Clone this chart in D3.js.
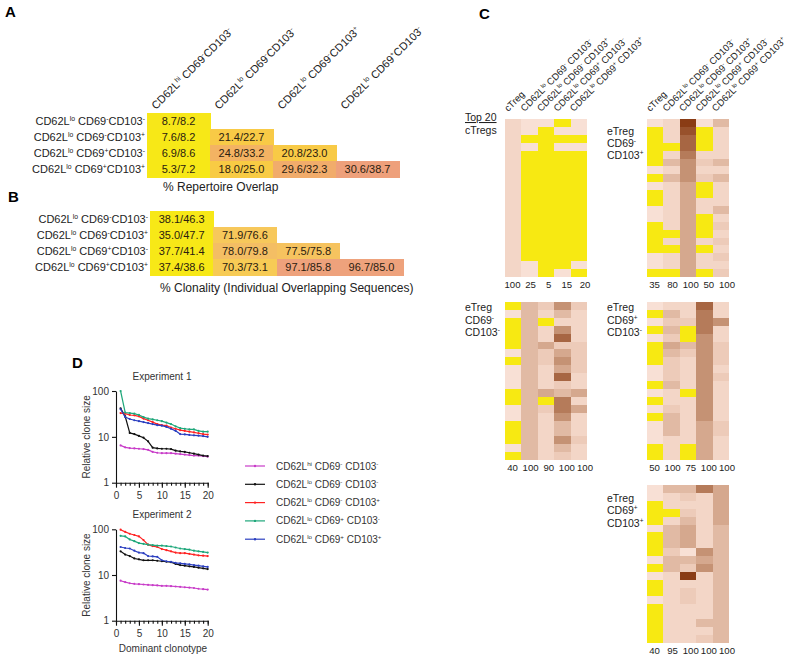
<!DOCTYPE html>
<html><head><meta charset="utf-8">
<script src="https://cdn.jsdelivr.net/npm/d3@7"></script>
<style>
body{margin:0;background:#fff}
svg{display:block;font-family:"Liberation Sans",Arial,sans-serif}
text{white-space:pre}
</style>
</head><body>
<svg id="fig" width="800" height="658"></svg>
<script>
// ---------- DATA ----------
// Panels A/B (lower-triangular tables, Experiment 1 / Experiment 2)
const tableRows = ["CD62L{lo} CD69{-}CD103{-}", "CD62L{lo} CD69{-}CD103{+}", "CD62L{lo} CD69{+}CD103{-}", "CD62L{lo} CD69{+}CD103{+}"];
const tableColsA = ["CD62L{hi} CD69{-}CD103{-}", "CD62L{lo} CD69{-}CD103{-}", "CD62L{lo} CD69{-}CD103{+}", "CD62L{lo} CD69{+}CD103{-}"];
const overlapExp1 = [[8.7],[7.6,21.4],[6.9,24.8,20.8],[5.3,18.0,29.6,30.6]];
const overlapExp2 = [[8.2],[8.2,22.7],[8.6,33.2,23.0],[7.2,25.0,32.3,38.7]];
const clonalityExp1 = [[38.1],[35.0,71.9],[37.7,78.0,77.5],[37.4,70.3,97.1,96.7]];
const clonalityExp2 = [[46.3],[47.7,76.6],[41.4,79.8,75.8],[38.6,73.1,85.8,85.0]];

// Panel C heatmaps: 20 rows x 5 columns; 'Y' = not found (yellow), digits 0-9 = relative frequency level
const heatCols = ["cTreg", "CD62L{lo} CD69{-} CD103{-}", "CD62L{lo} CD69{-} CD103{+}", "CD62L{lo} CD69{+} CD103{-}", "CD62L{lo} CD69{+} CD103{+}"];
const heatTop20cTreg = ["100Y0","10Y00","1YYYY","10Y00","1YYYY","1YYYY","1YYYY","1YYYY","1YYYY","1YYYY","1YYYY","1YYYY","1YYYY","1YYYY","1YYYY","1YYYY","1YYYY","1YYYY","10YY0","10Y0Y"];
const heatCD69negCD103pos = ["01903","Y18Y1","Y17Y1","YY7Y1","Y1611","Y3523","01511","Y3523","014Y1","Y14Y1","Y1411","01413","014Y1","Y14Y2","YY4Y1","Y1412","YY4Y1","01412","01411","YY4Y2"];
const heatCD69negCD103neg = ["Y3252","03131","Y3Y11","Y3151","Y3171","Y3422","03242","Y3252","03142","03171","03121","Y3434","Y3Y61","03264","03151","Y3131","Y3131","Y3152","03131","Y3121"];
const heatCD69posCD103neg = ["01171","Y3161","02265","Y3Y61","02Y51","Y4352","Y3252","Y2152","02151","02152","Y3151","01Y51","Y1151","02151","Y3151","03142","03142","01141","Y1Y41","Y1Y41"];
const heatCD69posCD103pos = ["03364","01214","Y1114","YY214","Y1314","03413","Y3413","Y3413","Y2053","03343","Y3253","01913","Y1113","Y1213","01213","Y1113","Y1113","Y1133","Y1113","Y1123"];
const pctTop20cTreg = ["100","25","5","15","20"];
const pctCD69negCD103pos = ["35","80","100","50","100"];
const pctCD69negCD103neg = ["40","100","90","100","100"];
const pctCD69posCD103neg = ["50","100","75","100","100"];
const pctCD69posCD103pos = ["40","95","100","100","100"];

// Panel D: relative clone size of 20 dominant clonotypes
const clonotypes = d3.range(1, 21);
const seriesNames = ["CD62L{hi} CD69{-} CD103{-}", "CD62L{lo} CD69{-} CD103{-}", "CD62L{lo} CD69{-} CD103{+}", "CD62L{lo} CD69{+} CD103{-}", "CD62L{lo} CD69{+} CD103{+}"];
const seriesColors = ["#c83cc8", "#111111", "#ff2222", "#1ea77a", "#2b3fc0"];
const exp1HiNN = [6.5,5.9,5.7,5.6,5.5,5.4,5.2,4.7,4.5,4.4,4.4,4.4,4.3,4.2,4.1,4.0,3.9,3.9,3.8,3.7];
const exp1LoNN = [42,28,12.2,11.5,10.5,9.6,8.0,5.8,5.6,5.5,5.5,5.4,5.0,4.8,4.7,4.5,4.3,4.1,3.9,3.8];
const exp1LoNP = [33,32,30,29.5,28,25,23,21,19,18,17.5,16,15,14,13.5,13,12.5,12,11.5,11.2];
const exp1LoPN = [100,34,33,32,30,27,25,24,23,22,20.5,19,17,15.5,15,14.5,14.5,13.5,13,13];
const exp1LoPP = [40,27,24.5,23,22,21,20,19,18,17.5,16.5,15,13.5,11.5,11.3,11,10.8,10.6,10.4,10];
const exp2HiNN = [7.5,7.0,6.6,6.4,6.3,6.2,6.1,6.0,5.9,5.8,5.8,5.7,5.6,5.5,5.4,5.3,5.2,5.0,4.9,4.8];
const exp2LoNN = [33,28,26,23,22,21,21,21,20.5,20,19.5,19,17.5,16.5,16,15.5,15,14.5,14,13.5];
const exp2LoNP = [98,88,80,75,70,58,46,43,41,37,35,33,31,30,30,29,28,27,26.5,26];
const exp2LoPN = [72,70,60,55,50,48,46,45,44,44,43,42,40,38,37,36,34,33,32,31];
const exp2LoPP = [41,39,38,34,31,30,26,25.5,25,21,20,19.5,18.5,18,17.5,17,16.5,16,15.5,15];

// ---------- HELPERS ----------
const svg = d3.select("#fig");
svg.append("rect").attr("width", 800).attr("height", 658).attr("fill", "#fff");

function rich(t, str, fs) {
  const parts = str.split(/(\{[^}]*\})/).filter(s => s.length);
  let raised = false;
  parts.forEach(p => {
    if (p[0] === "{") {
      t.append("tspan").attr("font-size", fs * 0.62).attr("dy", -fs * 0.38).text(p.slice(1, -1));
      raised = true;
    } else {
      const s = t.append("tspan").text(p);
      if (raised) { s.attr("dy", fs * 0.38); raised = false; }
    }
  });
  return t;
}
function panelLetter(ch, x, y) {
  svg.append("text").attr("x", x).attr("y", y).attr("font-size", 15).attr("font-weight", "bold").text(ch);
}

// ---------- PANELS A & B ----------
function drawTable(rows, v1, v2, color, x0, y0, cw, rh, labelX) {
  const g = svg.append("g");
  const x = d3.scaleBand().domain(d3.range(4)).range([x0, x0 + 4 * cw]);
  const y = d3.scaleBand().domain(d3.range(4)).range([y0, y0 + 4 * rh]);
  rows.forEach((r, i) => {
    rich(g.append("text").attr("x", labelX).attr("y", y(i) + rh / 2 + 4).attr("text-anchor", "end")
      .attr("font-size", 11).attr("fill", "#222"), r, 11);
    v1[i].forEach((a, j) => {
      const b = v2[i][j];
      g.append("rect").attr("x", x(j)).attr("y", y(i)).attr("width", x.bandwidth() + 0.5).attr("height", y.bandwidth() + 0.5)
        .attr("fill", color((a + b) / 2)).attr("shape-rendering", "crispEdges");
      g.append("text").attr("x", x(j) + cw / 2).attr("y", y(i) + rh / 2 + 4).attr("text-anchor", "middle")
        .attr("font-size", 11).attr("fill", "#2a2010").text(a.toFixed(1) + "/" + b.toFixed(1));
    });
  });
  return x;
}
panelLetter("A", 5, 17);
const colorA = d3.scaleLinear().domain([8, 22, 35]).range(["#f7e817", "#f8ca46", "#ee9f7c"]).clamp(true);
const xA = drawTable(tableRows, overlapExp1, overlapExp2, colorA, 147, 113, 63, 16, 145);
tableColsA.forEach((c, j) => {
  rich(svg.append("text").attr("transform", `translate(${xA(j) + 9},110) rotate(-45)`)
    .attr("font-size", 11).attr("fill", "#222"), c, 11);
});
svg.append("text").attr("x", 163).attr("y", 191).attr("font-size", 12).attr("fill", "#222").text("% Repertoire Overlap");

panelLetter("B", 8, 202);
const colorB = d3.scaleLinear().domain([42, 74, 91]).range(["#f7e817", "#f7c95a", "#eea27c"]).clamp(true);
drawTable(tableRows, clonalityExp1, clonalityExp2, colorB, 150, 211, 63.3, 16, 148);
svg.append("text").attr("x", 160).attr("y", 292).attr("font-size", 12).attr("fill", "#222").text("% Clonality (Individual Overlapping Sequences)");

// ---------- PANEL C ----------
panelLetter("C", 479, 19);
const heatColor = d3.scaleLinear().domain([0, 2, 4, 6, 9]).range(["#f8e0d5", "#edcbb9", "#d5a88e", "#b57b5a", "#8a3c15"]);
const yellow = "#f7e912";
function drawHeat(rows, pct, x0, top, labelLines, labelX, labelTop, labelStep, withHeader) {
  const g = svg.append("g");
  const x = d3.scaleBand().domain(d3.range(5)).range([x0, x0 + 82]);
  const y = d3.scaleBand().domain(d3.range(20)).range([top, top + 158]);
  const xl = d3.scalePoint().domain(d3.range(5)).range([x0 + 7.5, x0 + 80]);
  rows.forEach((r, i) => {
    r.split("").forEach((c, j) => {
      g.append("rect").attr("x", x(j)).attr("y", y(i)).attr("width", x.bandwidth() + 0.4).attr("height", y.bandwidth() + 0.4)
        .attr("fill", c === "Y" ? yellow : heatColor(+c)).attr("shape-rendering", "crispEdges");
    });
  });
  pct.forEach((p, j) => {
    g.append("text").attr("x", xl(j)).attr("y", top + 158 + 11).attr("text-anchor", "middle")
      .attr("font-size", 9.6).attr("fill", "#222").text(p);
  });
  labelLines.forEach((l, k) => {
    const t = g.append("text").attr("x", labelX).attr("y", labelTop + k * labelStep).attr("font-size", 10.5).attr("fill", "#222");
    rich(t, l, 10.5);
  });
  if (withHeader) {
    heatCols.forEach((c, j) => {
      rich(g.append("text").attr("transform", `translate(${x(j) + x.bandwidth() / 2 - 5},112) rotate(-45)`)
        .attr("font-size", 9.5).attr("fill", "#222"), c, 9.5);
    });
  }
}
drawHeat(heatTop20cTreg, pctTop20cTreg, 505, 119, [], 465, 0, 12, true);
svg.append("text").attr("x", 465).attr("y", 121).attr("font-size", 10.5).attr("fill", "#222").attr("text-decoration", "underline").text("Top 20");
svg.append("text").attr("x", 465).attr("y", 133.5).attr("font-size", 10.5).attr("fill", "#222").text("cTregs");
drawHeat(heatCD69negCD103pos, pctCD69negCD103pos, 647, 119, ["eTreg", "CD69{-}", "CD103{+}"], 607, 135, 12, true);
drawHeat(heatCD69negCD103neg, pctCD69negCD103neg, 505, 302, ["eTreg", "CD69{-}", "CD103{-}"], 465, 311, 12.5, false);
drawHeat(heatCD69posCD103neg, pctCD69posCD103neg, 647, 302, ["eTreg", "CD69{+}", "CD103{-}"], 607, 311, 12.5, false);
drawHeat(heatCD69posCD103pos, pctCD69posCD103pos, 647, 485, ["eTreg", "CD69{+}", "CD103{+}"], 607, 501.5, 12.5, false);

// ---------- PANEL D ----------
panelLetter("D", 72, 368);
const xD = d3.scaleLinear().domain([0, 20]).range([116, 207.7]);
function drawClone(series, yTop, yBot, title, xLabel) {
  const g = svg.append("g");
  const y = d3.scaleLog().domain([1, 100]).range([yBot, yTop]);
  g.append("text").attr("x", 162).attr("y", yTop - 11).attr("text-anchor", "middle").attr("font-size", 10).attr("fill", "#333").text(title);
  g.append("g").attr("transform", `translate(0,${yBot})`)
    .call(d3.axisBottom(xD).tickValues(d3.range(0, 21)).tickSize(3).tickFormat(""))
    .call(a => a.select(".domain").remove());
  const ax = g.append("g").attr("transform", `translate(0,${yBot})`)
    .call(d3.axisBottom(xD).tickValues([0, 5, 10, 15, 20]).tickSize(5).tickSizeOuter(0).tickPadding(4));
  ax.selectAll("text").attr("font-size", 10).attr("fill", "#333").attr("font-family", null);
  const ay = g.append("g").attr("transform", `translate(${xD(0)},0)`)
    .call(d3.axisLeft(y).tickValues([1, 10, 100]).tickFormat(d3.format("d")).tickSize(4).tickSizeOuter(0).tickPadding(3));
  ay.selectAll("text").attr("font-size", 10).attr("fill", "#333").attr("font-family", null);
  g.selectAll(".domain, .tick line").attr("stroke", "#111").attr("stroke-width", 1.1);
  g.append("text").attr("transform", `translate(90,${(yTop + yBot) / 2}) rotate(-90)`).attr("text-anchor", "middle")
    .attr("font-size", 10).attr("fill", "#333").text("Relative clone size");
  if (xLabel) g.append("text").attr("x", 163).attr("y", yBot + 31).attr("text-anchor", "middle").attr("font-size", 10).attr("fill", "#333").text(xLabel);
  const line = d3.line().x((d, i) => xD(clonotypes[i])).y(d => y(d));
  series.forEach((s, k) => {
    g.append("path").attr("d", line(s)).attr("fill", "none").attr("stroke", seriesColors[k]).attr("stroke-width", 1.2);
    g.selectAll(null).data(s).enter().append("circle").attr("cx", (d, i) => xD(clonotypes[i])).attr("cy", d => y(d))
      .attr("r", 1.1).attr("fill", seriesColors[k]);
  });
}
drawClone([exp1HiNN, exp1LoNN, exp1LoNP, exp1LoPN, exp1LoPP], 391, 482.7, "Experiment 1", null);
drawClone([exp2HiNN, exp2LoNN, exp2LoNP, exp2LoPN, exp2LoPP], 529.3, 620.7, "Experiment 2", "Dominant clonotype");

// legend
seriesNames.forEach((n, k) => {
  const yy = 466 + k * 18.3;
  svg.append("line").attr("x1", 245).attr("x2", 265).attr("y1", yy).attr("y2", yy).attr("stroke", seriesColors[k]).attr("stroke-width", 1.2);
  svg.append("circle").attr("cx", 255).attr("cy", yy).attr("r", 1.2).attr("fill", seriesColors[k]);
  rich(svg.append("text").attr("x", 276).attr("y", yy + 3.5).attr("font-size", 10).attr("fill", "#333"), n, 10);
});
</script>
</body></html>
